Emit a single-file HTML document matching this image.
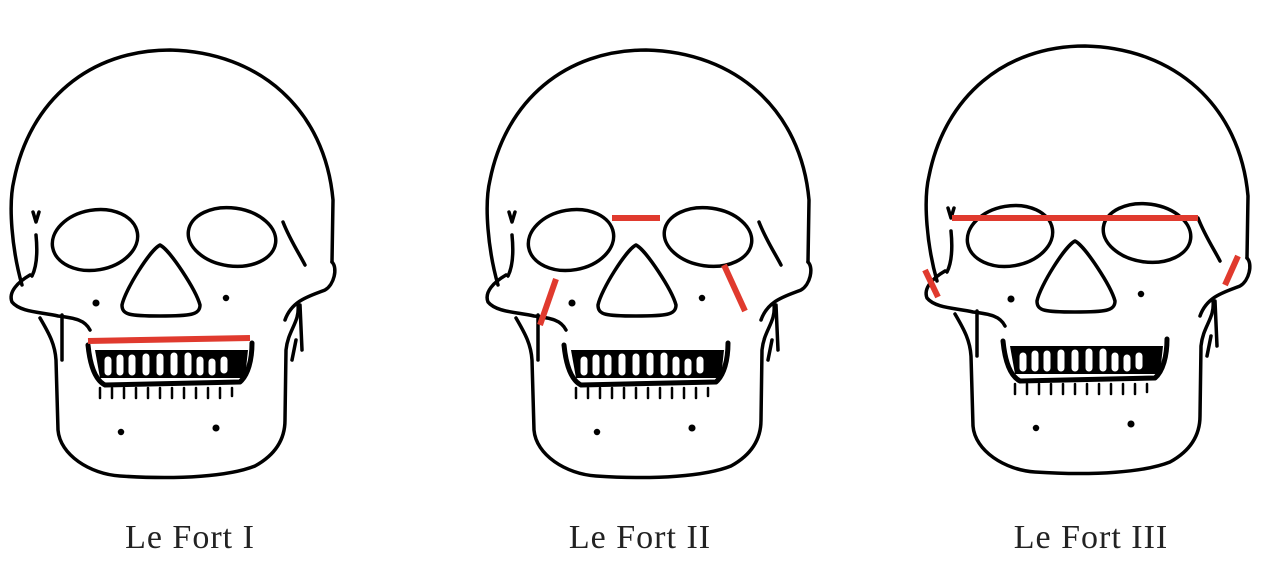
<!DOCTYPE html>
<html><head><meta charset="utf-8"><style>
html,body{margin:0;padding:0;background:#fff;}
svg{display:block;}
text{font-family:"Liberation Serif",serif;font-size:34px;letter-spacing:1px;fill:#222;}
</style></head><body>
<svg width="1266" height="582" viewBox="0 0 1266 582">
<defs>
<g id="skull" fill="none" stroke="#000" stroke-width="3.5" stroke-linejoin="round" stroke-linecap="round">
  <path d="M22,285 C12,250 8,205 14,180 C30,100 90,50 170,50 C260,52 325,110 333,200 L332,262"/>
  <path d="M30,275 C18,282 8,292 12,302 C20,312 40,312 58,316 C75,318 85,320 90,330"/>
  <path d="M332,262 C338,268 334,285 325,290 C310,296 292,300 285,320"/>
  <path d="M40,318 C50,335 55,345 56,360 L58,430 C60,455 90,474 120,476 C180,480 230,476 255,466 C275,455 285,440 285,420 L286,350 C288,330 300,322 298,305"/>
  <path d="M62,315 L62,360"/>
  <path d="M36,235 C38,255 36,268 32,276"/>
  <path d="M33,212 L36,222 L39,212"/>
  <path d="M283,222 C290,240 300,255 305,265"/>
  <path d="M300,305 L302,350 M292,360 L296,340"/>
  <ellipse cx="95" cy="240" rx="43" ry="30" transform="rotate(-10 95 240)"/>
  <ellipse cx="232" cy="237" rx="44" ry="29" transform="rotate(8 232 237)"/>
  <path d="M160,245 C150,250 125,290 122,305 C122,315 130,316 160,316 C190,316 200,315 200,305 C196,290 170,250 160,245 Z"/>
  <path d="M88,345 C90,365 95,380 105,385 L240,382 C248,375 252,360 252,343" stroke-width="5"/>
  <path d="M95,350 L100,378 L245,378 L248,350" fill="#000" stroke="none"/>
  <path d="M108,360 L108,372 M120,358 L120,372 M132,358 L132,372 M146,357 L146,372 M160,357 L160,372 M174,356 L174,372 M188,356 L188,372 M200,360 L200,372 M212,362 L212,372 M224,360 L224,370" stroke="#fff" stroke-width="7"/>
  <path d="M100,388 L100,398 M112,388 L112,398 M124,388 L124,398 M136,388 L136,398 M148,388 L148,398 M160,388 L160,398 M172,388 L172,398 M184,388 L184,398 M196,388 L196,398 M208,388 L208,398 M220,388 L220,398 M232,388 L232,396" stroke-width="2.5"/>
  <circle cx="96" cy="303" r="1.8" fill="#000"/><circle cx="226" cy="298" r="1.5" fill="#000"/>
  <circle cx="121" cy="432" r="1.5" fill="#000"/><circle cx="216" cy="428" r="1.8" fill="#000"/>
</g>
</defs>
<g><use href="#skull"/></g>
<g><use href="#skull" transform="translate(476,0)"/></g>
<g><use href="#skull" transform="translate(915,-4)"/></g>
<g stroke="#e03a2e" stroke-width="6" stroke-linecap="butt">
  <line x1="88" y1="341" x2="250" y2="338"/>
  <line x1="612" y1="218" x2="660" y2="218"/>
  <line x1="556" y1="279" x2="540" y2="325"/>
  <line x1="724" y1="265" x2="745" y2="311"/>
  <line x1="952" y1="218" x2="1198" y2="218"/>
  <line x1="925" y1="270" x2="938" y2="297"/>
  <line x1="1238" y1="256" x2="1225" y2="285"/>
</g>
<text x="190" y="548" text-anchor="middle">Le Fort I</text>
<text x="640" y="548" text-anchor="middle">Le Fort II</text>
<text x="1091" y="548" text-anchor="middle">Le Fort III</text>
</svg>
</body></html>
